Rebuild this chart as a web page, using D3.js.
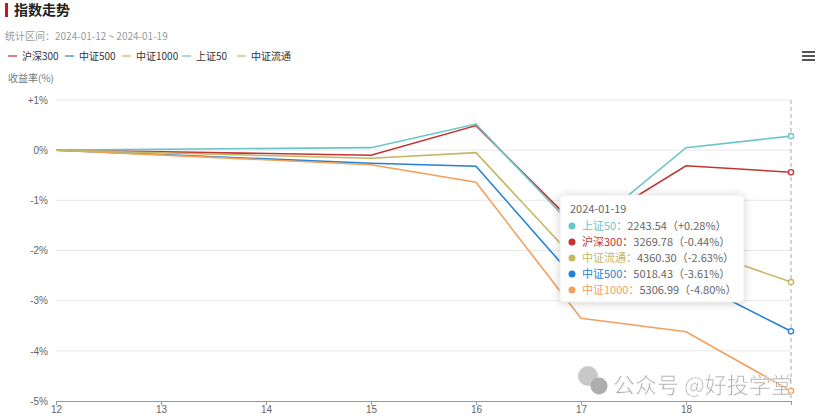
<!DOCTYPE html>
<html>
<head>
<meta charset="utf-8">
<script src="https://cdn.jsdelivr.net/npm/d3@7"></script>
<style>
body { margin: 0; background: #fff; }
svg { font-family: "Microsoft YaHei", "Noto Sans CJK SC", sans-serif; }
</style>
</head>
<body>
<script>
const w = 816;
const h = 420;

const dates = ["2024-01-12", "2024-01-15", "2024-01-16", "2024-01-17", "2024-01-18", "2024-01-19"];
const names = ["沪深300", "中证500", "中证1000", "上证50", "中证流通"];
const colors = ["#c23531", "#2581d1", "#f2a15d", "#6cc4c8", "#c4b764"];
const hs300 = [0, -0.10, 0.49, -1.60, -0.31, -0.44];
const zz500 = [0, -0.26, -0.32, -2.70, -2.55, -3.61];
const zz1000 = [0, -0.29, -0.64, -3.35, -3.62, -4.80];
const sz50 = [0, 0.05, 0.52, -1.68, 0.05, 0.28];
const zzlt = [0, -0.16, -0.05, -2.30, -1.90, -2.63];
const lastClose = [3269.78, 5018.43, 5306.99, 2243.54, 4360.30];
const yTicks = [1, 0, -1, -2, -3, -4, -5];

const parse = d3.timeParse("%Y-%m-%d");
const series = [hs300, zz500, zz1000, sz50, zzlt].map((vals, i) => ({
	name: names[i],
	color: colors[i],
	close: lastClose[i],
	values: vals.map((v, j) => ({date: parse(dates[j]), v: v}))
}));

const xScale = d3.scaleTime()
	.domain([parse(dates[0]), parse(dates[dates.length - 1])])
	.range([56, 791]);

const yScale = d3.scaleLinear()
	.domain([-5, 1])
	.range([401, 100]);

const svg = d3.select("body")
	.append("svg")
	.attr("width", w)
	.attr("height", h);

// title
svg.append("rect").attr("x", 5).attr("y", 3).attr("width", 3).attr("height", 14).attr("fill", "#c8161d");
svg.append("text").attr("x", 14).attr("y", 15).attr("font-size", 14).attr("font-weight", "bold")
	.attr("fill", "#222").text("指数走势");
svg.append("text").attr("x", 5).attr("y", 40).attr("font-size", 10).attr("fill", "#999")
	.text("统计区间：2024-01-12 ~ 2024-01-19");
svg.append("text").attr("x", 8).attr("y", 82).attr("font-size", 10).attr("fill", "#777")
	.text("收益率(%)");

// legend
const legendX = [8, 65, 122, 182, 237];
const legend = svg.selectAll(".legend")
	.data(series)
	.enter()
	.append("g")
	.attr("class", "legend")
	.attr("transform", (d, i) => "translate(" + legendX[i] + ",56)");
legend.append("line").attr("x1", 0).attr("x2", 9).attr("y1", 0).attr("y2", 0)
	.attr("stroke", d => d.color).attr("stroke-width", 1.2);
legend.append("text").attr("x", 14).attr("y", 4).attr("font-size", 10).attr("fill", "#333")
	.text(d => d.name);

// menu icon
[52, 56, 60].forEach(y => {
	svg.append("rect").attr("x", 802).attr("y", y - 1).attr("width", 13).attr("height", 2).attr("fill", "#555");
});

// grid
svg.append("g")
	.selectAll("line")
	.data(yTicks.filter(d => d !== -5))
	.enter()
	.append("line")
	.attr("x1", 56).attr("x2", 791)
	.attr("y1", d => yScale(d)).attr("y2", d => yScale(d))
	.attr("stroke", "#e8e8e8");

const yAxis = d3.axisLeft(yScale)
	.tickValues(yTicks)
	.tickSize(0)
	.tickPadding(8)
	.tickFormat(d => (d > 0 ? "+" : "") + d + "%");
svg.append("g")
	.attr("transform", "translate(56,0)")
	.call(yAxis)
	.call(g => g.select(".domain").remove())
	.call(g => g.selectAll("text").attr("fill", "#666").attr("font-size", 10).attr("font-family", null));

const xAxis = d3.axisBottom(xScale)
	.ticks(d3.timeDay.every(1))
	.tickSize(4)
	.tickFormat(d3.timeFormat("%-d"));
svg.append("g")
	.attr("transform", "translate(0,401)")
	.call(xAxis)
	.call(g => g.select(".domain").attr("stroke", "#999"))
	.call(g => g.selectAll(".tick line").attr("stroke", "#999"))
	.call(g => g.selectAll(".tick").filter(d => d.getDate() === 19).select("text").remove())
	.call(g => g.selectAll("text").attr("fill", "#666").attr("font-size", 10).attr("font-family", null).attr("dy", "0.5em"));

// pointer line
svg.append("line")
	.attr("x1", xScale(parse(dates[5]))).attr("x2", xScale(parse(dates[5])))
	.attr("y1", 100).attr("y2", 401)
	.attr("stroke", "#aaa").attr("stroke-dasharray", "4,3");

// lines
const line = d3.line()
	.x(d => xScale(d.date))
	.y(d => yScale(d.v));

svg.selectAll(".series")
	.data(series)
	.enter()
	.append("path")
	.attr("class", "series")
	.attr("d", d => line(d.values))
	.attr("fill", "none")
	.attr("stroke", d => d.color)
	.attr("stroke-width", 1.6);

svg.selectAll(".last")
	.data(series)
	.enter()
	.append("circle")
	.attr("cx", d => xScale(d.values[5].date))
	.attr("cy", d => yScale(d.values[5].v))
	.attr("r", 2.6)
	.attr("fill", "#fff")
	.attr("stroke", d => d.color)
	.attr("stroke-width", 1.4);

// watermark
const wm = svg.append("g").attr("opacity", 0.8);
wm.append("circle").attr("cx", 588).attr("cy", 376).attr("r", 10).attr("fill", "#bbb");
wm.append("circle").attr("cx", 599).attr("cy", 386).attr("r", 8.5).attr("fill", "#999");
wm.append("text").attr("x", 613).attr("y", 393).attr("font-size", 22).attr("fill", "#999")
	.attr("stroke", "#fff").attr("stroke-width", 0.6)
	.text("公众号 @好投学堂");

// tooltip
const tip = svg.append("g").attr("transform", "translate(560,195)");
tip.append("rect").attr("x", 0).attr("y", 0).attr("width", 184).attr("height", 107).attr("rx", 4)
	.attr("fill", "#fff").attr("stroke", "#eee")
	.style("filter", "drop-shadow(0px 1px 4px rgba(0,0,0,0.18))");
tip.append("text").attr("x", 10).attr("y", 18).attr("font-size", 11).attr("fill", "#666").text(dates[5]);
const sorted = series.slice().sort((a, b) => b.values[5].v - a.values[5].v);
const rows = tip.selectAll(".row")
	.data(sorted)
	.enter()
	.append("g")
	.attr("transform", (d, i) => "translate(0," + (31 + i * 16) + ")");
rows.append("circle").attr("cx", 12).attr("cy", 0).attr("r", 3.5).attr("fill", d => d.color);
rows.append("text").attr("x", 22).attr("y", 4).attr("font-size", 11)
	.each(function(d) {
		const t = d3.select(this);
		const v = d.values[5].v;
		t.append("tspan").attr("fill", d.color).text(d.name + "：");
		t.append("tspan").attr("fill", "#666")
			.text(d.close.toFixed(2) + "（" + (v > 0 ? "+" : "") + v.toFixed(2) + "%）");
	});
</script>
</body>
</html>
